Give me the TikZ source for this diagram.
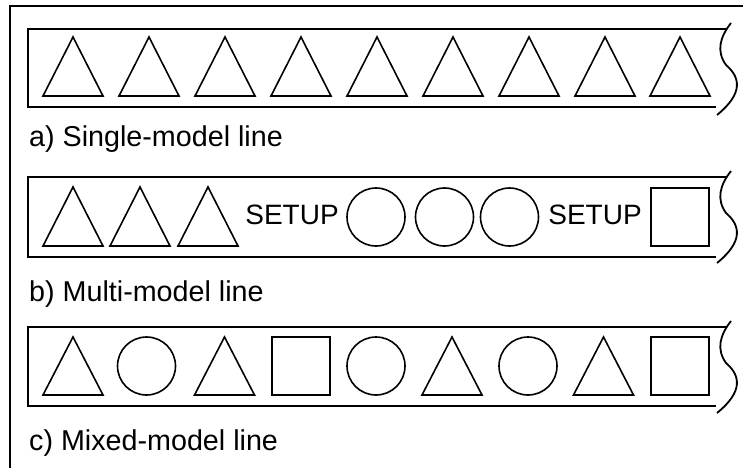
\documentclass[tikz,border=0pt]{standalone}
\usepackage{fontspec}
\setmainfont{Liberation Sans}
\begin{document}
\begin{tikzpicture}[x=1pt,y=-1pt]
\tikzset{
  frame/.style={line width=1.8pt},
  shp/.style={line width=1.6pt},
  lbl/.style={anchor=base west, inner sep=0pt, font=\fontsize{28.7}{30}\selectfont},
  setuplbl/.style={anchor=base, inner sep=0pt, font=\fontsize{28}{30}\selectfont},
  circ/.style={circle, draw, shp, minimum size=58pt, inner sep=0pt},
  sq/.style={rectangle, draw, shp, minimum size=58pt, inner sep=0pt}
}
\newcommand\mytri[3]{% cx, apex y, base y
  \draw[shp] ({#1-30},#3) -- (#1,#2) -- ({#1+30},#3) -- cycle;}
\newcommand\mybox[2]{% top, bottom
  \draw[frame] (727,#1) -- (28,#1) -- (28,#2) -- (716,#2);
  \draw[frame] (731,{#1-6}) .. controls (720,{#1+8}) and (716,{#1+22}) .. (726,{#1+36})
     .. controls (740,{#1+48}) and (744,{#1+64}) .. (717,{#1+86});}
\useasboundingbox (0,0) rectangle (743,468);
% outer frame
\draw[frame] (743,6) -- (10,6) -- (10,468);
% a) single-model
\mybox{29}{107}
\foreach \cx in {73,149,225,301,377,453,529,605,680} {\mytri{\cx}{37}{96}}
\node[lbl] (la) at (29,146) {a) Single-model line};
% b) multi-model
\mybox{177}{257}
\foreach \cx in {73,140,208} {\mytri{\cx}{187}{246}}
\node[setuplbl] (s1) at (292,224) {SETUP};
\node[circ] (b1) at (376,217) {};
\node[circ] (b2) at (444.5,217) {};
\node[circ] (b3) at (509.5,217) {};
\node[setuplbl] (s2) at (595,224) {SETUP};
\node[sq] (b4) at (680,217) {};
\node[lbl] (lb) at (29,301) {b) Multi-model line};
% c) mixed-model
\mybox{327}{406}
\mytri{73}{337}{395}
\node[circ] (c1) at (146.5,366) {};
\mytri{224.5}{337}{395}
\node[sq] (c2) at (301,366) {};
\node[circ] (c3) at (376,366) {};
\mytri{452}{337}{395}
\node[circ] (c4) at (528,366) {};
\mytri{603.5}{337}{395}
\node[sq] (c5) at (680,366) {};
\node[lbl] (lc) at (29,450) {c) Mixed-model line};
\end{tikzpicture}
\end{document}
